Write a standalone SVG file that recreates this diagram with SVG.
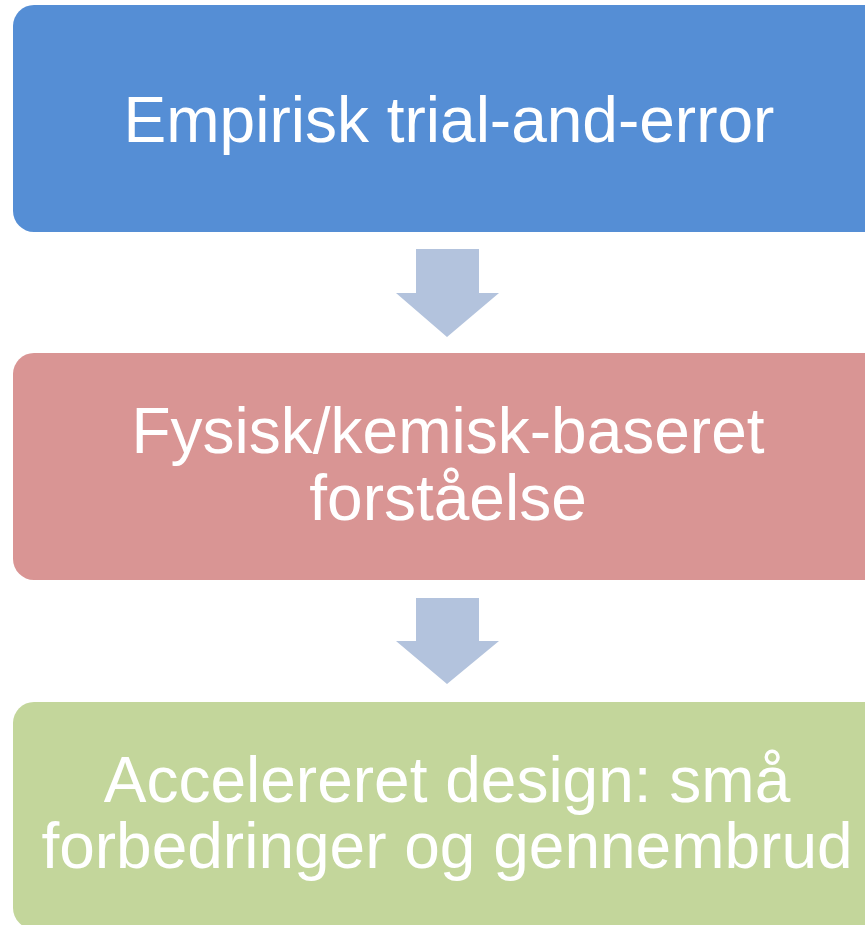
<svg xmlns="http://www.w3.org/2000/svg" width="865" height="925" viewBox="0 0 865 925">
<style>
.t{font-family:"Liberation Sans",Arial,sans-serif;font-size:64px;fill:#ffffff;text-anchor:middle}
.arr{fill:#B3C3DD}
</style>
<rect width="865" height="925" fill="#ffffff"/>
<g id="node1">
<rect x="13" y="5" width="872" height="227" rx="21" fill="#558ED5"/>
<text class="t" x="449" y="142">Empirisk trial-and-error</text>
</g>
<g id="node2">
<rect x="13" y="353" width="872" height="227" rx="21" fill="#D99594"/>
<text class="t" x="448" y="453">Fysisk/kemisk-baseret</text>
<text class="t" x="448" y="520">forståelse</text>
</g>
<g id="node3">
<rect x="13" y="702" width="872" height="227" rx="21" fill="#C3D69B"/>
<text class="t" x="447" y="802">Accelereret design: små</text>
<text class="t" x="447" y="868">forbedringer og gennembrud</text>
</g>
<g id="connectors">
<polygon class="arr" points="416,249 479,249 479,293 499,293 447,337 396,293 416,293"/>
<polygon class="arr" points="416,598 479,598 479,641 499,641 447,684 396,641 416,641"/>
</g>
</svg>
